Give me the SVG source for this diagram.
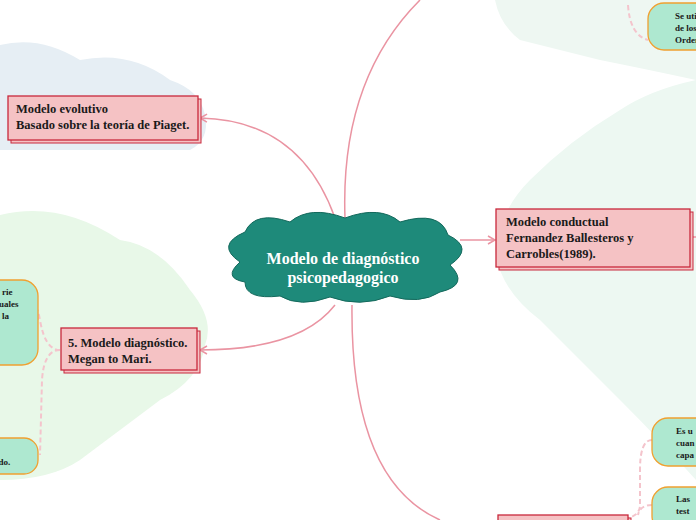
<svg xmlns="http://www.w3.org/2000/svg" width="696" height="520" viewBox="0 0 696 520">
<style>
.bx{fill:#f5c2c4;stroke:#c8283c;stroke-width:1.3}
.sh{fill:#f5c2c4;stroke:#c8283c;stroke-width:1}
.t{font-family:"Liberation Serif",serif;font-weight:bold;font-size:12.5px;fill:#1a1a1a}
.s{font-family:"Liberation Serif",serif;font-weight:bold;font-size:9px;fill:#1a1a1a}
.lf{fill:#aee8d0;stroke:#f0a030;stroke-width:1.3}
.c{fill:none;stroke:#ea94a2;stroke-width:1.5}
.d{fill:none;stroke:#f4c4cc;stroke-width:2;stroke-dasharray:5 3}
</style>
<defs><marker id="a" markerWidth="10" markerHeight="10" refX="8" refY="5" orient="auto" markerUnits="userSpaceOnUse"><path d="M1,1 L8,5 L1,9" fill="none" stroke="#ea94a2" stroke-width="1.5"/></marker></defs>
<g id="bg">
<path d="M0,45 Q40,35 80,60 Q130,50 170,80 Q200,90 205,115 Q210,140 190,150 L0,150 Z" fill="#e6eef4"/>
<path d="M0,215 Q60,200 120,240 Q160,245 190,290 Q215,320 205,345 Q200,380 160,400 Q120,430 80,460 Q50,480 0,480 Z" fill="#e8f8e8"/>
<path d="M495,0 L696,0 L696,80 Q650,70 600,60 Q560,50 520,40 Q500,25 495,0 Z" fill="#eef7f2"/>
<path d="M696,80 Q650,90 620,110 Q570,140 530,180 Q500,210 495,250 Q500,290 540,320 Q580,360 620,400 Q660,440 696,480 Z" fill="#edf8f2"/>
</g>
<g id="connectors">
<path class="c" d="M345,218 Q340,80 420,0"/>
<path class="c" d="M335,218 Q300,120 200,118" marker-end="url(#a)"/>
<path class="c" d="M460,240 L495,240" marker-end="url(#a)"/>
<path class="c" d="M335,305 Q300,350 200,350" marker-end="url(#a)"/>
<path class="c" d="M352,305 Q350,480 440,520"/>
<path class="c" d="M690,237 L696,237"/>
<path class="d" d="M60,350 Q45,350 40,320 Q36,300 38,320"/>
<path class="d" d="M60,350 Q44,350 42,380 L40,455"/>
<path class="d" d="M628,5 Q630,35 648,40"/>
<path class="d" d="M652,440 Q640,440 640,470 L640,505 Q640,515 628,518"/>
<path class="d" d="M652,505 Q640,505 638,515"/>
</g>
<g id="center">
<path d="M240,262 Q215,245 245,232 Q255,210 290,222 Q310,205 345,218 Q380,205 400,222 Q440,210 448,235 Q475,248 450,265 Q470,285 440,292 Q420,305 390,296 Q360,308 330,297 Q300,308 280,296 Q245,300 245,282 Q222,278 240,262 Z" fill="#1e8a7a" stroke="#14695c" stroke-width="1"/>
<text x="343" y="264" text-anchor="middle" font-family="Liberation Serif,serif" font-weight="bold" font-size="16" fill="#fff">Modelo de diagnóstico</text>
<text x="343" y="283" text-anchor="middle" font-family="Liberation Serif,serif" font-weight="bold" font-size="16" fill="#fff">psicopedagogico</text>
</g>
<g id="n1"><rect class="sh" x="11" y="99" width="190" height="44"/><rect class="bx" x="8" y="96" width="190" height="44"/>
<text class="t" x="16" y="113">Modelo evolutivo</text><text class="t" x="16" y="129">Basado sobre la teoría de Piaget.</text></g>
<g id="n2"><rect class="sh" x="499" y="212" width="194" height="58"/><rect class="bx" x="496" y="209" width="194" height="58"/>
<text class="t" x="506" y="226">Modelo conductual</text><text class="t" x="506" y="242">Fernandez Ballesteros y</text><text class="t" x="506" y="258">Carrobles(1989).</text></g>
<g id="n3"><rect class="sh" x="64" y="331" width="136" height="42"/><rect class="bx" x="61" y="328" width="136" height="42"/>
<text class="t" x="68" y="347">5. Modelo diagnóstico.</text><text class="t" x="68" y="363">Megan to Mari.</text></g>
<g id="n4"><rect class="sh" x="501" y="518" width="130" height="10"/><rect class="bx" x="498" y="515" width="130" height="10"/></g>
<g id="l1"><rect class="lf" x="-30" y="280" width="68" height="85" rx="16"/>
<text class="s" x="2" y="295">rie</text><text class="s" x="-1" y="307">uales</text><text class="s" x="2" y="319">la</text></g>
<g id="l2"><rect class="lf" x="-30" y="438" width="68" height="36" rx="14"/><text class="s" x="-6" y="465">ado.</text></g>
<g id="r1"><rect class="lf" x="648" y="3" width="70" height="47" rx="16"/>
<text class="s" x="675" y="19">Se uti</text><text class="s" x="675" y="31">de los</text><text class="s" x="675" y="43">Orden</text></g>
<g id="r2"><rect class="lf" x="652" y="418" width="70" height="48" rx="16"/>
<text class="s" x="676" y="434">Es u</text><text class="s" x="676" y="446">cuan</text><text class="s" x="676" y="458">capa</text></g>
<g id="r3"><rect class="lf" x="652" y="487" width="70" height="45" rx="16"/>
<text class="s" x="676" y="502">Las</text><text class="s" x="676" y="514">test</text></g>
</svg>
